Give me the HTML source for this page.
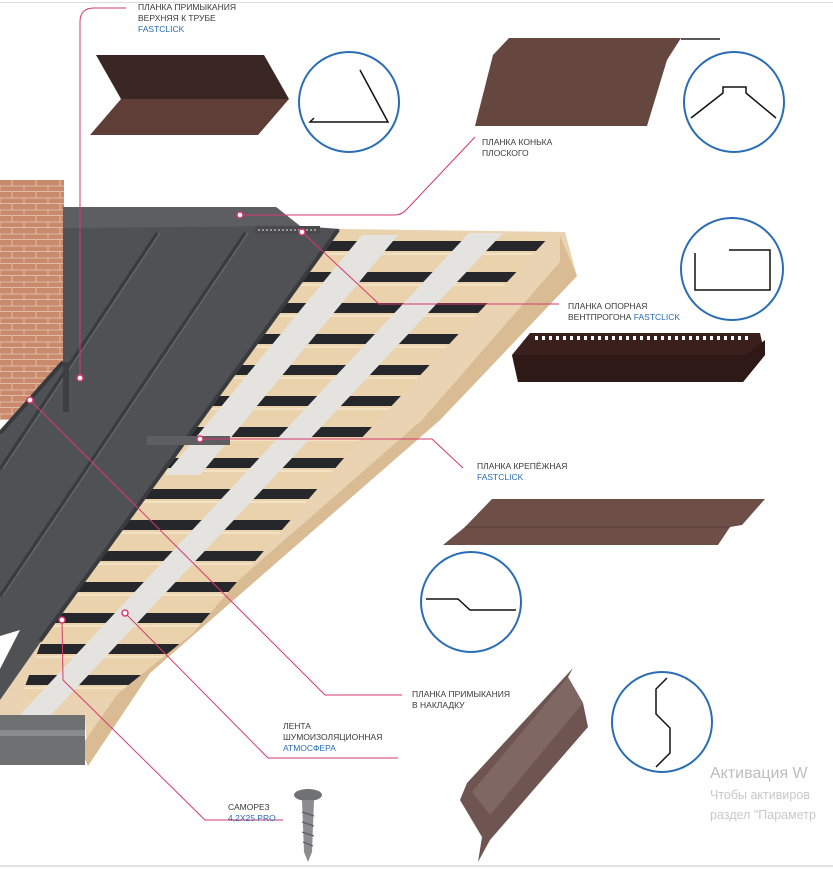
<!DOCTYPE html>
<html><head><meta charset="utf-8"><style>
html,body{margin:0;padding:0;background:#fff;}
svg{display:block}
text{font-family:"Liberation Sans",sans-serif;font-size:8.5px;fill:#3a3a3a}
.b{fill:#2a6db5}
</style></head><body>
<svg width="833" height="869" viewBox="0 0 833 869" xmlns="http://www.w3.org/2000/svg">
<defs>
<pattern id="brick" width="24" height="12" patternUnits="userSpaceOnUse">
<rect width="24" height="12" fill="#c98a6c"/>
<path d="M0 11.5H24M12 0V6M0 6H24M0 6V12M24 6V12" stroke="#e3bca8" stroke-width="1"/>
</pattern>
<pattern id="batt" width="60" height="31" patternUnits="userSpaceOnUse" y="5">
<rect width="60" height="31" fill="#ead2ad"/>
<rect y="0" width="60" height="2" fill="#f3e1c4"/>
<rect y="19" width="60" height="10" fill="#25272a"/>
</pattern>
<clipPath id="bclip"><polygon points="340,229 550,236 357,443 193,633 110,700 20,700 42,640"/></clipPath>
</defs>
<rect x="0" y="2" width="833" height="1" fill="#ddd"/>
<rect x="0" y="865" width="833" height="2" fill="#e2e2e2"/>
<!-- brick wall -->
<rect x="0" y="180" width="64" height="240" fill="url(#brick)"/>
<!-- wood base -->
<polygon points="340,229 565,232 577,276 440,420 150,673 88,765 85,720 0,720 0,670 42,640" fill="#e9d3b2"/>
<!-- fascia side -->
<polygon points="560,236 577,276 440,420 150,673 88,766 80,748 132,673 422,420 560,262" fill="#d9bc93"/>
<!-- battens -->
<g clip-path="url(#bclip)"><rect x="0" y="229" width="600" height="470" fill="url(#batt)"/></g>
<!-- tapes -->
<polygon points="362,235 398,235 200,475 165,475" fill="#e4e3e0"/>
<polygon points="469,233 503,233 50,716 19,716" fill="#e4e3e0"/>
<!-- metal roof -->
<polygon points="63,207 276,207 300,226 340,229 42,640 0,700 0,433 63,362" fill="#505155"/>
<polygon points="63,207 276,207 300,226 63,228" fill="#5d5e62"/>
<path d="M157,233 L0,469 M245,233 L0,596" stroke="#3a3b3e" stroke-width="3" fill="none"/>
<path d="M160,233 L3,469 M248,233 L3,596" stroke="#6a6b6f" stroke-width="1" fill="none"/>
<path d="M338,230 L40,641" stroke="#3a3b3e" stroke-width="4" fill="none"/>
<path d="M63,362 L0,433" stroke="#38393c" stroke-width="4" fill="none"/>
<rect x="63" y="362" width="6" height="50" fill="#3e3f42"/>
<rect x="147" y="436" width="83" height="9" fill="#5d5e62"/>
<rect x="255" y="226" width="65" height="8" fill="#4a4a4a"/>
<path d="M258,230 H318" stroke="#999" stroke-width="2" stroke-dasharray="2 2"/>
<polygon points="0,636 20,630 0,669" fill="#fff"/>
<rect x="0" y="715" width="85" height="50" fill="#6f7072"/>
<rect x="0" y="730" width="85" height="6" fill="#8a8b8d"/>
<!-- pink leader lines -->
<g stroke="#d63a6e" stroke-width="1" fill="none">
<path d="M80,378 V22 Q80,8 94,8 H126"/>
<path d="M240,215 H395 Q402,215 408,208 L475,137"/>
<path d="M302,232 L379,304 H559"/>
<path d="M200,439 H432 L463,468"/>
<path d="M30,400 L325,695 H402"/>
<path d="M125,613 L268,758 H398"/>
<path d="M62,620 L63,680 L205,820 H283"/>
</g>
<g fill="#fff" stroke="#d63a6e" stroke-width="1.5">
<circle cx="80" cy="378" r="3"/><circle cx="240" cy="215" r="3"/><circle cx="302" cy="232" r="3"/>
<circle cx="200" cy="439" r="3"/><circle cx="30" cy="400" r="3"/><circle cx="125" cy="613" r="3"/><circle cx="62" cy="620" r="3"/>
</g>
<!-- labels -->
<text x="138" y="10">ПЛАНКА ПРИМЫКАНИЯ</text><text x="138" y="21">ВЕРХНЯЯ К ТРУБЕ</text><text x="138" y="32" class="b">FASTCLICK</text>
<text x="482" y="145">ПЛАНКА КОНЬКА</text><text x="482" y="156">ПЛОСКОГО</text>
<text x="568" y="309">ПЛАНКА ОПОРНАЯ</text><text x="568" y="320">ВЕНТПРОГОНА <tspan class="b">FASTCLICK</tspan></text>
<text x="477" y="469">ПЛАНКА КРЕПЁЖНАЯ</text><text x="477" y="480" class="b">FASTCLICK</text>
<text x="412" y="697">ПЛАНКА ПРИМЫКАНИЯ</text><text x="412" y="708">В НАКЛАДКУ</text>
<text x="283" y="729">ЛЕНТА</text><text x="283" y="740">ШУМОИЗОЛЯЦИОННАЯ</text><text x="283" y="751" class="b">АТМОСФЕРА</text>
<text x="228" y="810">САМОРЕЗ</text><text x="228" y="821" class="b">4,2Х25 PRO</text>
<!-- products -->
<polygon points="96,55 264,55 289,99 121,99" fill="#3a2623"/>
<polygon points="121,99 289,99 258,135 90,135" fill="#5e3e37"/>
<polygon points="509,38 681,38 667,60 647,126 475,126 493,55" fill="#654740"/>
<path d="M681,39 H720" stroke="#222" stroke-width="1.5"/>
<polygon points="530,333 760,333 765,355 743,382 518,382 512,355" fill="#3a201c"/>
<polygon points="512,355 745,355 765,340 765,355 743,382 518,382" fill="#2f1916"/>
<path d="M535,338 H752" stroke="#fff" stroke-width="4" stroke-dasharray="3 4"/>
<polygon points="492,499 765,499 742,525 730,527 718,545 443,545 465,527" fill="#6e4f48"/>
<path d="M465,527 H730" stroke="#5a3d37" stroke-width="1"/>
<polygon points="573,668 568,677 583,703 588,727 490,840 478,862 482,837 460,800 467,783" fill="#6e5552"/>
<polygon points="568,677 583,703 490,815 472,792" fill="#7f6864"/>
<!-- screw -->
<ellipse cx="308" cy="795" rx="14" ry="6" fill="#6f7175"/>
<polygon points="302,800 314,800 312,852 308,862 304,852" fill="#8a8c90"/>
<path d="M302,812 L314,816 M302,822 L314,826 M302,832 L314,836 M303,842 L313,846" stroke="#555" stroke-width="1"/>
<!-- circles -->
<g fill="#fff" stroke="#2a6db5" stroke-width="2">
<circle cx="349" cy="102" r="50"/><circle cx="734" cy="102" r="50"/><circle cx="732" cy="269" r="51"/>
<circle cx="471" cy="602" r="50"/><circle cx="662" cy="722" r="50"/>
</g>
<g fill="none" stroke="#111" stroke-width="1.5">
<path d="M360,70 L388,122 H310 L314,118"/>
<path d="M691,118 L723,93 V87 H746 V93 L776,118"/>
<path d="M729,250 H770 V290 H695 V253"/>
<path d="M426,599 H458 L470,610 H516"/>
<path d="M667,678 L656,689 V714 L670,728 V753 L656,767"/>
</g>
<!-- watermark -->
<text x="710" y="778" style="font-size:16px;fill:#bdbdbd">Активация W</text>
<text x="710" y="799" style="font-size:12.5px;fill:#c8c8c8">Чтобы активиров</text>
<text x="710" y="819" style="font-size:12.5px;fill:#c8c8c8">раздел "Параметр</text>
</svg>
</body></html>
